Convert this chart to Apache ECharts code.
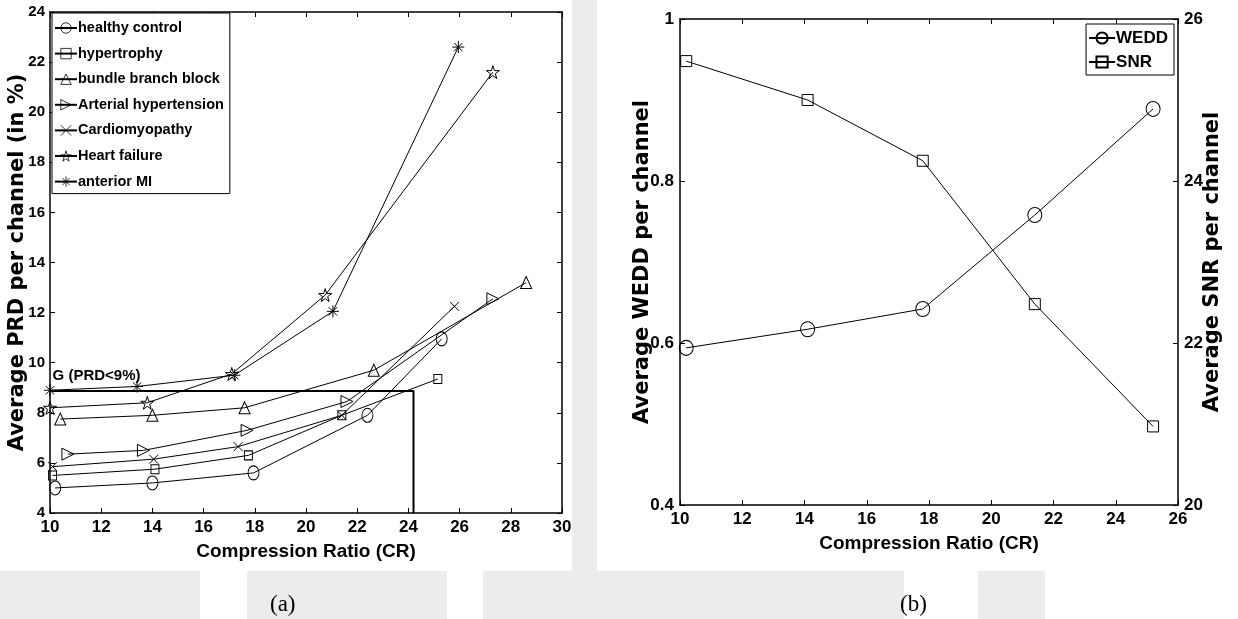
<!DOCTYPE html>
<html>
<head>
<meta charset="utf-8">
<script src="https://cdn.jsdelivr.net/npm/echarts@6/dist/echarts.min.js"></script>
<style>
  html, body { margin: 0; padding: 0; background: #fff; }
  #chart { width: 1238px; height: 619px; }
</style>
</head>
<body>
<div id="chart"></div>
<script>
  // (a) average PRD vs compression ratio, points are [CR, PRD]
  const healthyControl = [[10.2, 5.0], [14.0, 5.2], [17.95, 5.6], [22.4, 7.9], [25.3, 10.95]];
  const hypertrophy = [[10.1, 5.5], [14.1, 5.75], [17.75, 6.3], [21.4, 7.9], [25.15, 9.35]];
  const bundleBranchBlock = [[10.4, 7.75], [14.0, 7.9], [17.6, 8.2], [22.65, 9.7], [28.6, 13.2]];
  const arterialHypertension = [[10.7, 6.35], [13.65, 6.5], [17.7, 7.3], [21.6, 8.45], [27.3, 12.55]];
  const cardiomyopathy = [[10.1, 5.85], [14.05, 6.15], [17.35, 6.65], [21.4, 7.9], [25.8, 12.25]];
  const heartFailure = [[10.0, 8.2], [13.8, 8.4], [17.1, 9.55], [20.75, 12.7], [27.3, 21.6]];
  const anteriorMI = [[10.0, 8.9], [13.4, 9.05], [17.2, 9.5], [21.05, 12.05], [25.95, 22.6]];
  // region G (PRD < 9%)
  const gBox = [[10, 8.87], [24.2, 8.87], [24.2, 4]];
  const gLabel = [[10.1, 9.47]];

  // (b) WEDD and SNR vs compression ratio
  const crB = [10.2, 14.1, 17.8, 21.4, 25.2];
  const wedd = [0.594, 0.617, 0.642, 0.758, 0.889];
  const snr = [25.48, 25.0, 24.25, 22.48, 20.97];

  // axis ranges [min, max, interval]
  const crRangeA = [10, 30, 2];
  const prdRange = [4, 24, 2];
  const crRangeB = [10, 26, 2];
  const weddRange = [0.4, 1, 0.2];
  const snrRange = [20, 26, 2];

  const SANS = '"Liberation Sans", Arial, sans-serif';
  const WIDE = '"DejaVu Sans", sans-serif';

  const SYM_X = 'path://M0,0L100,100M100,0L0,100';
  const SYM_STAR = 'path://M50,0L61,35L98,35L68,57L79,91L50,70L21,91L32,57L2,35L39,35Z';
  const SYM_AST = 'path://M50,0L50,100M0,50L100,50M15,15L85,85M85,15L15,85';

  const chart = echarts.init(document.getElementById('chart'));

  function axisBase(r, gridIndex, position, showLabel) {
    return {
      type: 'value',
      gridIndex: gridIndex,
      position: position,
      min: r[0], max: r[1], interval: r[2],
      axisLine: { show: true, onZero: false, lineStyle: { color: '#000', width: 1.5 } },
      axisTick: { show: true, inside: true, length: 5, lineStyle: { color: '#000', width: 1 } },
      axisLabel: {
        show: showLabel, color: '#000', fontFamily: SANS, fontWeight: 'bold', fontSize: 17, margin: 6
      },
      splitLine: { show: false }
    };
  }

  function lineSeries(name, data, symbol, size, xi, yi, extra) {
    return Object.assign({
      name: name,
      type: 'line',
      xAxisIndex: xi,
      yAxisIndex: yi,
      data: data,
      symbol: symbol,
      symbolSize: size,
      showAllSymbol: true,
      clip: false,
      lineStyle: { color: '#000', width: 1 },
      itemStyle: { color: 'rgba(0,0,0,0)', borderColor: '#000', borderWidth: 1 },
      emphasis: { disabled: true }
    }, extra || {});
  }

  const xTitle = {
    name: 'Compression Ratio (CR)',
    nameLocation: 'middle',
    nameGap: 29,
    nameMoveOverlap: false,
    nameTextStyle: { color: '#000', fontFamily: SANS, fontWeight: 'bold', fontSize: 19 }
  };
  const yTitleStyle = { color: '#000', fontFamily: WIDE, fontWeight: 'bold', fontSize: 21 };

  // faint grey backdrop around the two white panels
  const GREY = '#ececec';
  const backdrop = [
    [572, 0, 25, 571], [0, 571, 200, 48], [247, 571, 200, 48], [483, 571, 421, 48], [978, 571, 67, 48]
  ].map(r => ({
    type: 'rect', silent: true, z: -10,
    shape: { x: r[0], y: r[1], width: r[2], height: r[3] },
    style: { fill: GREY }
  }));

  const prdAxis = Object.assign(axisBase(prdRange, 0, 'left', true), {
    name: 'Average PRD per channel (in %)', nameLocation: 'middle', nameGap: 22,
    nameMoveOverlap: false, nameRotate: 90, nameTextStyle: yTitleStyle
  });
  prdAxis.axisLabel.fontSize = 15;
  prdAxis.axisLabel.margin = 5;

  const option = {
    animation: false,
    backgroundColor: '#fff',
    grid: [
      { left: 50, top: 12, right: 676, bottom: 106 },
      { left: 680, top: 19, right: 60, bottom: 114 }
    ],
    xAxis: [
      Object.assign(axisBase(crRangeA, 0, 'bottom', true), xTitle),
      axisBase(crRangeA, 0, 'top', false),
      Object.assign(axisBase(crRangeB, 1, 'bottom', true), xTitle),
      axisBase(crRangeB, 1, 'top', false)
    ],
    yAxis: [
      prdAxis,
      axisBase(prdRange, 0, 'right', false),
      Object.assign(axisBase(weddRange, 1, 'left', true), {
        name: 'Average WEDD per channel', nameLocation: 'middle', nameGap: 27,
        nameMoveOverlap: false, nameRotate: 90, nameTextStyle: yTitleStyle
      }),
      Object.assign(axisBase(snrRange, 1, 'right', true), {
        name: 'Average SNR per channel', nameLocation: 'middle', nameGap: 24,
        nameMoveOverlap: false, nameRotate: 90, nameTextStyle: yTitleStyle
      })
    ],
    legend: [
      {
        data: ['healthy control', 'hypertrophy', 'bundle branch block', 'Arterial hypertension',
          'Cardiomyopathy', 'Heart failure', 'anterior MI'],
        orient: 'vertical',
        left: 52, top: 13,
        padding: [6, 6, 3, 2],
        itemGap: 7.6,
        itemWidth: 22, itemHeight: 13,
        borderColor: '#000', borderWidth: 1,
        backgroundColor: '#fff',
        itemStyle: { borderWidth: 0.8 },
        textStyle: {
          color: '#000', fontFamily: SANS, fontWeight: 'bold', fontSize: 14.5, lineHeight: 18,
          padding: [0, 0, 0, -4]
        }
      },
      {
        data: ['WEDD', 'SNR'],
        orient: 'vertical',
        right: 64, top: 24,
        padding: [5, 6, 4, 2],
        itemGap: 6,
        itemWidth: 26, itemHeight: 14,
        borderColor: '#000', borderWidth: 1,
        backgroundColor: '#fff',
        textStyle: {
          color: '#000', fontFamily: SANS, fontWeight: 'bold', fontSize: 17, lineHeight: 18,
          padding: [0, 0, 0, -4]
        }
      }
    ],
    graphic: backdrop.concat([
      { type: 'text', left: 270, top: 593, style: { text: '(a)', font: '23px "Liberation Serif", serif', fill: '#000' } },
      { type: 'text', left: 900, top: 593, style: { text: '(b)', font: '23px "Liberation Serif", serif', fill: '#000' } }
    ]),
    series: [
      lineSeries('healthy control', healthyControl, 'circle', [11, 14], 0, 0),
      lineSeries('hypertrophy', hypertrophy, 'rect', [8, 9], 0, 0),
      lineSeries('bundle branch block', bundleBranchBlock, 'triangle', [11, 12], 0, 0),
      lineSeries('Arterial hypertension', arterialHypertension, 'triangle', [12, 12], 0, 0, { symbolRotate: -90 }),
      lineSeries('Cardiomyopathy', cardiomyopathy, SYM_X, [9, 9], 0, 0),
      lineSeries('Heart failure', heartFailure, SYM_STAR, [13, 13], 0, 0),
      lineSeries('anterior MI', anteriorMI, SYM_AST, [12, 12], 0, 0),
      {
        type: 'line', xAxisIndex: 0, yAxisIndex: 0, data: gBox, symbol: 'none', clip: false,
        lineStyle: { color: '#000', width: 2 }, emphasis: { disabled: true }, silent: true
      },
      {
        type: 'scatter', xAxisIndex: 0, yAxisIndex: 0, data: gLabel, symbolSize: 0, silent: true,
        itemStyle: { opacity: 1 },
        label: {
          show: true, position: 'right', distance: 0, formatter: 'G (PRD<9%)',
          color: '#000', textBorderWidth: 0, fontFamily: SANS, fontWeight: 'bold', fontSize: 15
        }
      },
      lineSeries('WEDD', crB.map((x, i) => [x, wedd[i]]), 'circle', [14, 15], 2, 2),
      lineSeries('SNR', crB.map((x, i) => [x, snr[i]]), 'rect', [11, 11], 2, 3)
    ]
  };

  chart.setOption(option);
</script>
</body>
</html>
